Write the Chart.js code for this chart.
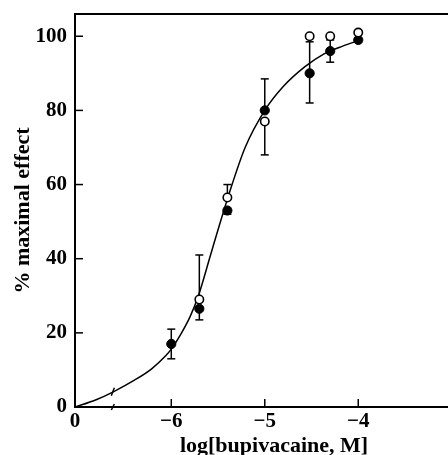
<!DOCTYPE html>
<html>
<head>
<meta charset="utf-8">
<script src="https://cdn.jsdelivr.net/npm/chart.js@4"></script>
<style>
  html, body { margin: 0; padding: 0; background: #fff; overflow: hidden; }
</style>
</head>
<body>
<canvas id="myChart" width="448" height="455"></canvas>
<script>
// log concentration of each measured point
const logConc = [-6, -5.7, -5.4, -5, -4.52, -4.3, -4];
// filled circles and their error bars
const filled = [17, 26.5, 53, 80, 90, 96, 99];
const filledErrUp = [4, 0, 0, 8.5, 8.5, 3, 0];
const filledErrDown = [4, 3, 1, 0, 8, 3, 0];
// open circles and their error bars
const open = [null, 29, 56.5, 77, 100, 100, 101];
const openErrUp = [0, 12, 3.5, 0, 0, 0, 0];
const openErrDown = [0, 0, 0, 9, 0, 0, 0];
// fitted curve
const curveX = [-7.03, -6.81, -6.62, -6.39, -6.21, -6.06, -6.0, -5.89, -5.8, -5.71, -5.58, -5.48, -5.35, -5.21, -5.0, -4.8, -4.57, -4.37, -4.16, -4.0];
const curveY = [0, 1.9, 4.1, 7.3, 10.3, 13.8, 15.6, 20, 24.3, 30, 41, 49.5, 60, 70, 80, 86.5, 91.8, 95.2, 97.4, 98.8];
// axis ticks
const xTicks = [-7.03, -6, -5, -4];
const xTickLabels = ['0', '\u22126', '\u22125', '\u22124'];
const yTicks = [0, 20, 40, 60, 80, 100];
const xBreak = -6.62;
const xTitle = 'log[bupivacaine, M]';

const serif = "'Liberation Serif', 'DejaVu Serif', serif";

const decor = {
  id: 'decor',
  beforeDatasetsDraw(chart) {
    const { ctx, chartArea: a, scales: { x, y } } = chart;
    const line = (x1, y1, x2, y2) => { ctx.beginPath(); ctx.moveTo(x1, y1); ctx.lineTo(x2, y2); ctx.stroke(); };
    ctx.save();
    ctx.strokeStyle = '#000';
    ctx.lineWidth = 2;
    line(a.left, a.top, a.right, a.top);

    // inward ticks
    ctx.lineWidth = 1.5;
    xTicks.slice(1).forEach(v => {
      const px = x.getPixelForValue(v);
      line(px, a.bottom, px, a.bottom - 8);
    });
    yTicks.slice(1).forEach(v => {
      const py = y.getPixelForValue(v);
      line(a.left, py, a.left + 8, py);
    });

    // axis break marks
    const bx = x.getPixelForValue(xBreak);
    line(bx - 2, a.bottom + 3, bx + 1, a.bottom - 3);
    const cy = y.getPixelForValue(curveY[curveX.indexOf(xBreak)]);
    line(bx - 2, cy + 4, bx + 1, cy - 4);

    // error bars
    const bar = (v, val, up, down) => {
      if (val === null) return;
      const px = x.getPixelForValue(v);
      const py = y.getPixelForValue(val);
      if (up) {
        const t = y.getPixelForValue(val + up);
        line(px, py, px, t); line(px - 4, t, px + 4, t);
      }
      if (down) {
        const b = y.getPixelForValue(val - down);
        line(px, py, px, b); line(px - 4, b, px + 4, b);
      }
    };
    logConc.forEach((v, i) => {
      bar(v, filled[i], filledErrUp[i], filledErrDown[i]);
      bar(v, open[i], openErrUp[i], openErrDown[i]);
    });

    // x axis title, a bit right of centre as in the figure
    ctx.fillStyle = '#000';
    ctx.font = 'bold 22px ' + serif;
    ctx.textAlign = 'center';
    ctx.textBaseline = 'alphabetic';
    ctx.fillText(xTitle, 274, 452);
    ctx.restore();
  }
};

new Chart(document.getElementById('myChart'), {
  type: 'scatter',
  data: {
    datasets: [
      {
        label: 'open',
        data: logConc.map((v, i) => ({ x: v, y: open[i] })),
        pointRadius: 4.2,
        pointBackgroundColor: '#fff',
        pointBorderColor: '#000',
        pointBorderWidth: 1.6,
        showLine: false,
        order: 0
      },
      {
        label: 'filled',
        data: logConc.map((v, i) => ({ x: v, y: filled[i] })),
        pointRadius: 4.6,
        pointBackgroundColor: '#000',
        pointBorderColor: '#000',
        pointBorderWidth: 1,
        showLine: false,
        order: 1
      },
      {
        label: 'fit',
        data: curveX.map((v, i) => ({ x: v, y: curveY[i] })),
        showLine: true,
        borderColor: '#000',
        borderWidth: 1.5,
        pointRadius: 0,
        cubicInterpolationMode: 'monotone',
        order: 2
      }
    ]
  },
  options: {
    responsive: false,
    animation: false,
    layout: { autoPadding: false, padding: { top: 14, right: 0, left: 0, bottom: 0 } },
    plugins: { legend: { display: false }, tooltip: { enabled: false } },
    scales: {
      x: {
        type: 'linear',
        min: -7.03,
        max: -3.04,
        afterBuildTicks: s => { s.ticks = xTicks.map(v => ({ value: v })); },
        afterFit: s => { s.height = 48; s.paddingLeft = 0; s.paddingRight = 0; },
        grid: { display: true, drawOnChartArea: false, drawTicks: false },
        border: { display: true, color: '#000', width: 2 },
        ticks: {
          color: '#000',
          font: { family: serif, size: 21, weight: 'bold' },
          padding: 2,
          maxRotation: 0,
          autoSkip: false,
          callback: (v, i) => xTickLabels[i]
        }
      },
      y: {
        min: 0,
        max: 106,
        afterBuildTicks: s => { s.ticks = yTicks.map(v => ({ value: v })); },
        afterFit: s => { s.width = 75; s.paddingTop = 0; s.paddingBottom = 0; },
        grid: { display: true, drawOnChartArea: false, drawTicks: false },
        border: { display: true, color: '#000', width: 2 },
        ticks: {
          color: '#000',
          font: { family: serif, size: 21, weight: 'bold' },
          padding: 8,
          autoSkip: false
        },
        title: {
          display: true,
          text: '% maximal effect',
          color: '#000',
          font: { family: serif, size: 22, weight: 'bold' },
          padding: { top: 10, bottom: 0 }
        }
      }
    }
  },
  plugins: [decor]
});
</script>
</body>
</html>
